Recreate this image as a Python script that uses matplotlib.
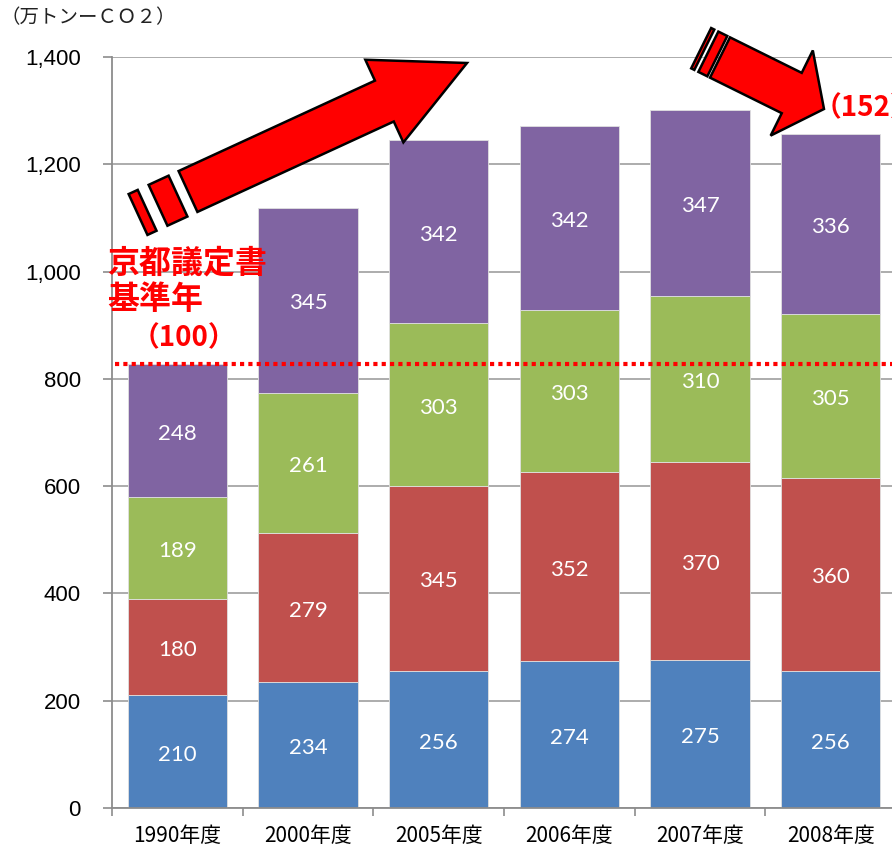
import numpy as np
import matplotlib
matplotlib.use("Agg")
import matplotlib.pyplot as plt
from matplotlib.patches import Polygon
from matplotlib.ticker import FuncFormatter

plt.rcParams['font.family'] = ['Noto Sans CJK JP', 'DejaVu Sans']

# CO2 emissions by sector (10,000 t-CO2), stacked bottom to top
years = ["1990年度", "2000年度", "2005年度", "2006年度", "2007年度", "2008年度"]
seg1 = [210, 234, 256, 274, 275, 256]
seg2 = [180, 279, 345, 352, 370, 360]
seg3 = [189, 261, 303, 303, 310, 305]
seg4 = [248, 345, 342, 342, 347, 336]
colors = ["#4F81BD", "#C0504D", "#9BBB59", "#8064A2"]

base_index = "（100）"
last_index = "（152）"

W, H = 892, 846
fig = plt.figure(figsize=(W / 100, H / 100), dpi=100)
ax = fig.add_axes([112 / W, 38 / H, 784 / W, 751 / H])

x = np.arange(len(years))
bottom = np.zeros(len(years))
for vals, c in zip([seg1, seg2, seg3, seg4], colors):
    vals = np.array(vals)
    ax.bar(x, vals, width=0.76, bottom=bottom, color=c, edgecolor="#e0e0e0",
           linewidth=0.6, zorder=2)
    for xi, b, v in zip(x, bottom, vals):
        ax.text(xi, b + v / 2 - 6, str(v), ha="center", va="center", color="white",
                fontsize=16, family="Lato", zorder=3)
    bottom += vals

totals = bottom
# 1990 baseline level
ax.axhline(totals[0], xmin=0.004, color="#FF0000", lw=3, ls=(0, (1, 1)), zorder=4)

ax.set_xlim(-0.5, 5.5)
ax.set_ylim(0, 1400)
ax.set_yticks(np.arange(0, 1401, 200))
ax.yaxis.set_major_formatter(FuncFormatter(lambda v, p: f"{int(v):,}"))
ax.grid(axis="y", color="#a6a6a6", lw=1.3, zorder=0)
ax.set_axisbelow(True)
for s in ["top", "right"]:
    ax.spines[s].set_visible(False)
for s in ["left", "bottom"]:
    ax.spines[s].set_color("#8c8c8c")
    ax.spines[s].set_linewidth(1.3)

ax.tick_params(axis="y", length=6.5, width=1.2, color="#8c8c8c", pad=16, labelsize=16)
for lbl in ax.get_yticklabels():
    lbl.set_family("Liberation Sans")
ax.set_xticks(x, years)
ax.set_xticks(np.arange(-0.5, 6, 1), minor=True)
ax.tick_params(axis="x", which="major", length=0, pad=12, labelsize=15)
ax.tick_params(axis="x", which="minor", length=6, width=1.2, color="#8c8c8c")


def px(p):
    return (p[0] / W, 1 - p[1] / H)


def arrow(tail, tip, shaft_w, head_w, head_len, stripes):
    tail, tip = np.array(tail, float), np.array(tip, float)
    u = (tip - tail) / np.linalg.norm(tip - tail)
    n = np.array([-u[1], u[0]])
    hs, hh = shaft_w / 2, head_w / 2
    hb = tip - u * head_len
    shapes = [[tail + n * hs, hb + n * hs, hb + n * hh, tip,
               hb - n * hh, hb - n * hs, tail - n * hs]]
    for a, b in stripes:
        pa, pb = tail + u * a, tail + u * b
        shapes.append([pa + n * hs, pb + n * hs, pb - n * hs, pa - n * hs])
    for pts in shapes:
        fig.add_artist(Polygon([px(p) for p in pts], closed=True, transform=fig.transFigure,
                               facecolor="#FF0000", edgecolor="black", lw=1.8, zorder=6))


arrow((188, 191.5), (467, 63), 45, 91, 91, [(-55, -45), (-33, -11)])
arrow((720, 57.5), (824, 109), 45, 95, 36, [(-21, -17.5), (-13, -3)])

fig.text(1 / W, 1 - 18 / H, "（万トンーＣＯ２）", fontsize=14, ha="left", va="center",
         color="#222222")
fig.text(107 / W, 1 - 264 / H, "京都議定書", fontsize=23, fontweight="bold",
         color="#FF0000", ha="left", va="center", zorder=7)
fig.text(107 / W, 1 - 300 / H, "基準年", fontsize=23, fontweight="bold",
         color="#FF0000", ha="left", va="center", zorder=7)
fig.text(184 / W, 1 - 338 / H, base_index, fontsize=20, fontweight="bold",
         color="#FF0000", ha="center", va="center", zorder=7)
fig.text(866 / W, 1 - 108 / H, last_index, fontsize=20, fontweight="bold",
         color="#FF0000", ha="center", va="center", zorder=7)

fig.savefig("out.png", dpi=100)
